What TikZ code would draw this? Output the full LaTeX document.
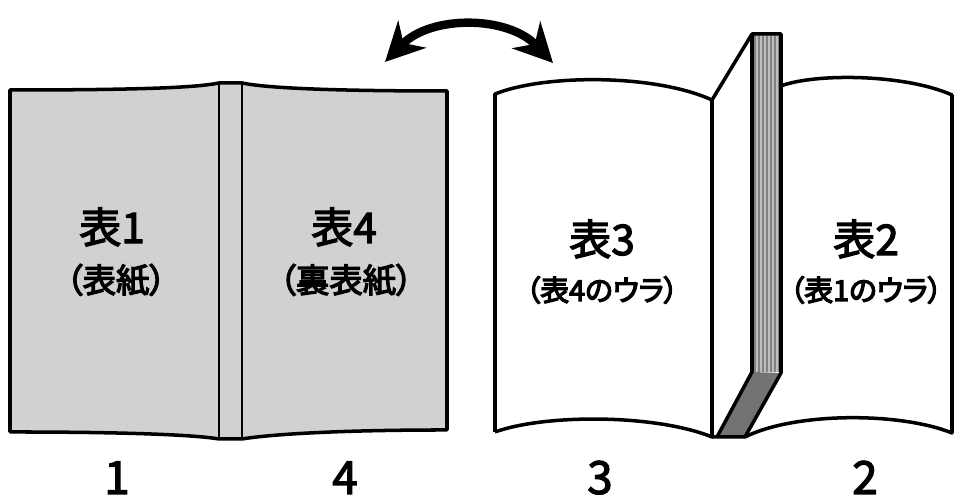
\documentclass[tikz,border=0pt]{standalone}
\usepackage{fontspec}
\setmainfont{Noto Sans CJK JP}[RawFeature=+palt]
\usetikzlibrary{arrows.meta}

\definecolor{covergray}{gray}{0.82}
\definecolor{spinegray}{gray}{0.50}
\definecolor{stripegray}{gray}{0.75}
\definecolor{bottomgray}{gray}{0.45}

% text drawn with fill and a thin stroke, for a medium weight
\newcommand\heavytext[1]{\special{pdf:literal direct q 2 Tr 0.35 w 0 G}#1\special{pdf:literal direct Q}}

\begin{document}
\begin{tikzpicture}[
  outline/.style={line width=1pt,line join=round},
  fold/.style={line width=0.5pt},
  stripe/.style={stripegray,line width=0.35pt},
  title/.style={inner sep=0pt,font=\fontsize{12}{14}\selectfont},
  sub/.style={inner sep=0pt,font=\fontsize{9.5}{11}\selectfont},
  subsmall/.style={inner sep=0pt,font=\fontsize{8.2}{10}\selectfont},
  pagenum/.style={inner sep=0pt,anchor=base,font=\fontsize{13}{15}\selectfont}
]
\useasboundingbox (0,0) rectangle (9.57,4.95);

% closed cover, outside
\draw[outline,fill=covergray] (0.10,4.05) .. controls (1.30,4.05) and (1.95,4.07) .. (2.19,4.12)
  -- (2.42,4.12) .. controls (2.66,4.07) and (3.30,4.04) .. (4.47,4.04)
  -- (4.47,0.65) .. controls (3.30,0.65) and (2.66,0.60) .. (2.42,0.56)
  -- (2.19,0.56) .. controls (1.95,0.60) and (1.30,0.63) .. (0.10,0.63) -- cycle;
\draw[fold] (2.19,4.12) -- (2.19,0.56);
\draw[fold] (2.42,4.12) -- (2.42,0.56);

% open cover, inside
\draw[outline] (4.95,0.63) -- (4.95,4.01) .. controls (5.45,4.21) and (6.55,4.21) .. (7.12,3.95)
  -- (7.12,0.58) .. controls (6.55,0.81) and (5.45,0.81) .. (4.95,0.63);
\draw[outline] (7.12,3.95) -- (7.52,4.61);

% page block edge
\fill[spinegray] (7.52,4.61) rectangle (7.81,1.225);
\draw[stripe] (7.57,4.61) -- (7.57,1.23);
\draw[stripe] (7.61,4.61) -- (7.61,1.23);
\draw[stripe] (7.65,4.61) -- (7.65,1.23);
\draw[stripe] (7.69,4.61) -- (7.69,1.23);
\draw[stripe] (7.73,4.61) -- (7.73,1.23);
\draw[stripe] (7.77,4.61) -- (7.77,1.23);
\fill[bottomgray] (7.52,1.23) -- (7.81,1.22) -- (7.45,0.58) -- (7.17,0.58) -- cycle;
\draw[outline] (7.17,0.58) -- (7.52,1.23) -- (7.52,4.61) -- (7.81,4.61) -- (7.81,1.22) -- (7.45,0.58);

\draw[outline] (7.81,4.09) .. controls (8.15,4.22) and (9.05,4.21) .. (9.52,4.00)
  -- (9.52,0.62) .. controls (9.00,0.83) and (7.95,0.83) .. (7.45,0.58) -- (7.12,0.58);

% swap arrow
\coordinate (swapL) at (3.85,4.33);
\coordinate (swapR) at (5.53,4.32);
\draw[line width=2.4pt,{Stealth[length=11pt,width=11pt,inset=3.5pt]}-{Stealth[length=11pt,width=11pt,inset=3.5pt]}]
  (swapL) to[bend left=46] (swapR);

\node[title] (c1) at (1.12,2.68) {\heavytext{表1}};
\node[sub] (c1sub) at (1.16,2.15) {\heavytext{（表紙）}};
\node[title] (c4) at (3.44,2.68) {\heavytext{表4}};
\node[sub] (c4sub) at (3.46,2.15) {\heavytext{（裏表紙）}};
\node[title] (c3) at (6.02,2.56) {\heavytext{表3}};
\node[subsmall] (c3sub) at (6.02,2.05) {\heavytext{（表4のウラ）}};
\node[title] (c2) at (8.66,2.56) {\heavytext{表2}};
\node[subsmall] (c2sub) at (8.66,2.05) {\heavytext{（表1のウラ）}};

\node[pagenum] (n1) at (1.17,0.01) {\heavytext{1}};
\node[pagenum] (n4) at (3.45,0.01) {\heavytext{4}};
\node[pagenum] (n3) at (6.00,0.01) {\heavytext{3}};
\node[pagenum] (n2) at (8.65,0.01) {\heavytext{2}};
\end{tikzpicture}
\end{document}
